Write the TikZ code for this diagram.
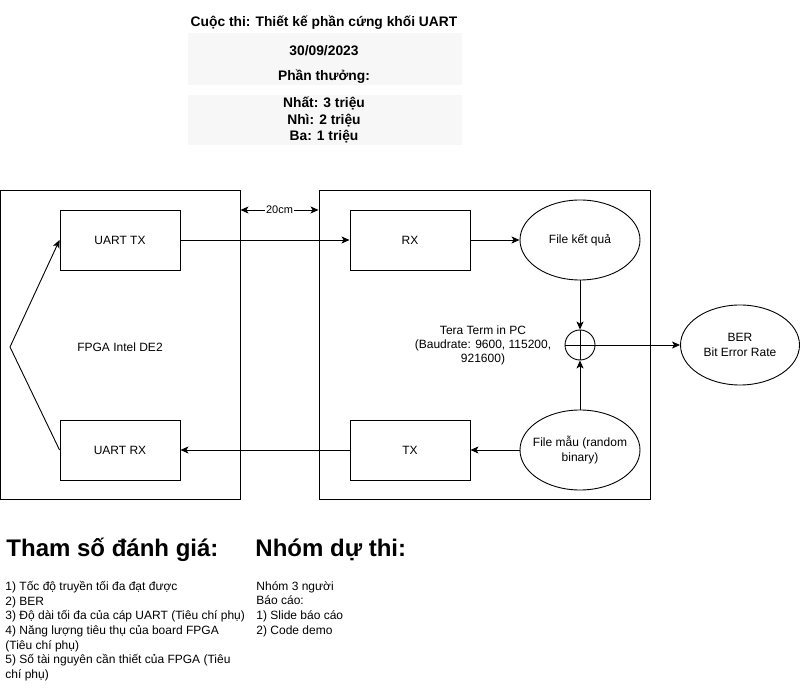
\documentclass[tikz,border=0pt]{standalone}
\usepackage{fontspec}
\setmainfont{Liberation Sans}
\usetikzlibrary{arrows.meta,shapes.geometric}
\definecolor{pale}{HTML}{F7F7F7}
\begin{document}
\begin{tikzpicture}[x=1pt,y=-1pt,
  line width=0.9pt,
  every node/.style={font=\fontsize{12}{14.5}\selectfont, inner sep=0pt, align=center},
  box/.style={draw, minimum width=120pt, minimum height=60pt},
  big/.style={draw, minimum width=240pt, minimum height=309pt},
  oval/.style={draw, ellipse, minimum width=120pt, minimum height=80pt},
  arr/.style={-{Stealth[length=8pt,width=7pt,inset=2pt]}},
  darr/.style={{Stealth[length=8pt,width=7pt,inset=2pt]}-{Stealth[length=8pt,width=7pt,inset=2pt]}},
  titletxt/.style={font=\bfseries\fontsize{13.8}{16.5}\selectfont},
  head/.style={font=\bfseries\fontsize{24}{27}\selectfont, anchor=west},
  body/.style={anchor=north west, align=left, font=\fontsize{12}{14.6}\selectfont}]
\useasboundingbox (0,0) rectangle (801,700);
% title area
\fill[pale] (188,33) rectangle (462,85);
\fill[pale] (188,95) rectangle (462,145);
\node[titletxt] (t1) at (324,23) {Cuộc thi: Thiết kế phần cứng khối UART};
\node[titletxt] (t2) at (324,51) {30/09/2023};
\node[titletxt] (t3) at (324,77) {Phần thưởng:};
\node[titletxt] (t4) at (324,120) {Nhất: 3 triệu\\Nhì: 2 triệu\\Ba: 1 triệu};
% big boxes
\node[big, minimum width=240pt] (fpga) at (120,344.5) {};
\node[big, minimum width=331pt] (pc) at (484.5,344.5) {};
\node (fpgal) at (120,347) {FPGA Intel DE2};
% inner boxes
\node[box] (utx) at (120,240) {UART TX};
\node[box] (urx) at (120,450) {UART RX};
\node[box] (rx) at (410,240) {RX};
\node[box] (tx) at (410,450) {TX};
\node[oval, label={center:File kết quả}] (fk) at (580,240) {};
\node[oval, label={[align=center]center:File mẫu (random\\binary)}] (fm) at (580,450) {};
\node[oval, minimum width=119pt, label={[align=center]center:BER\\Bit Error Rate}] (ber) at (740,345) {};
\node[draw, circle, minimum size=30pt] (sum) at (580,345) {};
\draw (sum.north) -- (sum.south) (sum.west) -- (sum.east);
\node[font=\fontsize{12}{14}\selectfont] (tera) at (483,345) {Tera Term in PC\\(Baudrate: 9600, 115200,\\921600)};
% connectors
\coordinate (zz) at (10,347);
\draw[arr] (urx.west) -- (zz) -- (utx.west);
\draw[arr] (utx.east) -- (rx.west);
\draw[arr] (rx.east) -- (fk.west);
\draw[arr] (fk.south) -- (sum.north);
\draw[arr] (fm.north) -- (sum.south);
\draw[arr] (sum.east) -- (ber.west);
\draw[arr] (fm.west) -- (tx.east);
\draw[arr] (tx.west) -- (urx.east);
\coordinate (d1) at (fpga.east |- 0,210);
\coordinate (d2) at (pc.west |- 0,210);
\draw[darr] (d1) -- node[fill=white, inner sep=1pt, font=\fontsize{11}{13}\selectfont] (dl) {20cm} (d2);
% bottom texts
\node[head] (h1) at (6,550) {Tham số đánh giá:};
\node[head] (h2) at (255,550) {Nhóm dự thi:};
\node[body] (b1) at (5,581) {1) Tốc độ truyền tối đa đạt được\\2) BER\\3) Độ dài tối đa của cáp UART (Tiêu chí phụ)\\4) Năng lượng tiêu thụ của board FPGA\\(Tiêu chí phụ)\\5) Số tài nguyên cần thiết của FPGA (Tiêu\\chí phụ)};
\node[body] (b2) at (256,581) {Nhóm 3 người\\Báo cáo:\\1) Slide báo cáo\\2) Code demo};
\end{tikzpicture}
\end{document}
